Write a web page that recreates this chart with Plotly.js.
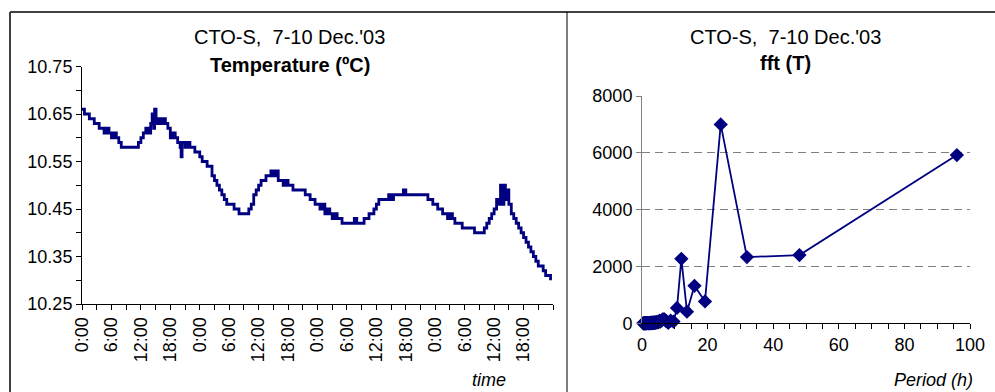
<!DOCTYPE html>
<html>
<head>
<meta charset="utf-8">
<script src="https://cdn.plot.ly/plotly-3.0.1.min.js"></script>
<style>
html,body{margin:0;padding:0;background:#fff;}
#chart{width:995px;height:392px;}
</style>
</head>
<body>
<div id="chart"></div>
<script>
// ---- Temperature time series (hours since 7 Dec 0:00) ----
var timeHours = [0,0.5,1,1.5,2,2.5,3,3.5,4,4.5,5,5.5,6,6.5,7,7.5,8,9,10,11,11.5,12,12.5,13,13.5,14,14.3,14.6,14.8,15.1,15.5,16,16.5,17,17.5,18,18.5,19,19.5,20,20.2,20.4,21,21.5,22,22.5,23,23.5,24,24.5,25,25.5,26,26.5,27,27.5,28,28.5,29,29.5,30,31,32,33,34,34.5,35,35.5,36,36.5,37,37.5,38,38.5,39,39.5,40,40.5,41,41.5,42,43,44,45,45.5,46,46.5,47,47.5,48,48.5,49,49.5,50,50.5,51,51.5,52,53,54,55,55.5,56,57,57.5,58,58.5,59,59.5,60,60.5,61,62,62.5,63,63.5,64,65,65.5,66,67,68,69,70,70.5,71,71.5,72,72.5,73,73.5,74,74.5,75,75.5,76,77,77.5,78,79,80,80.5,81,81.5,82,82.5,83,83.5,84,84.5,85,85.3,85.6,86,86.3,86.6,87,87.5,88,88.5,89,89.5,90,90.5,91,91.5,92,92.5,93,93.5,94,94.5,95,95.5];
var temperature = [10.66,10.65,10.65,10.64,10.64,10.63,10.63,10.62,10.62,10.61,10.62,10.61,10.60,10.61,10.60,10.59,10.58,10.58,10.58,10.58,10.59,10.60,10.61,10.62,10.61,10.63,10.65,10.62,10.66,10.63,10.64,10.63,10.64,10.63,10.62,10.60,10.61,10.60,10.59,10.58,10.56,10.59,10.58,10.59,10.58,10.58,10.57,10.57,10.56,10.55,10.55,10.54,10.54,10.52,10.51,10.50,10.49,10.48,10.47,10.46,10.46,10.45,10.44,10.44,10.45,10.46,10.48,10.49,10.50,10.51,10.51,10.52,10.52,10.53,10.52,10.53,10.51,10.51,10.50,10.51,10.50,10.49,10.49,10.49,10.48,10.48,10.47,10.47,10.46,10.46,10.45,10.46,10.44,10.45,10.44,10.43,10.44,10.43,10.42,10.42,10.42,10.43,10.42,10.42,10.43,10.43,10.44,10.44,10.45,10.46,10.47,10.47,10.47,10.48,10.47,10.48,10.48,10.48,10.49,10.48,10.48,10.48,10.48,10.48,10.47,10.47,10.46,10.46,10.45,10.45,10.44,10.44,10.43,10.44,10.43,10.42,10.42,10.41,10.41,10.41,10.40,10.40,10.40,10.40,10.41,10.42,10.43,10.44,10.45,10.47,10.46,10.50,10.46,10.50,10.47,10.49,10.46,10.44,10.43,10.42,10.41,10.40,10.39,10.38,10.37,10.36,10.35,10.34,10.33,10.33,10.32,10.31,10.31,10.30];

// ---- FFT of temperature ----
var periodH = [96,48,32,24,19.2,16,13.71,12,10.67,9.6,8.73,8,7.38,6.86,6.4,6,5.65,5.33,5.05,4.8,4.57,4.36,4.17,4,3.84,3.69,3.56,3.43,3.31,3.2,3.1,3,2.91,2.82,2.74,2.67,2.59,2.53,2.46,2.4,2.34,2.29,2.23,2.18,2.13,2.09,2.04,2,1.92,1.75,1.6,1.48,1.37,1.28,1.2,1.07,0.96,0.8,0.69,0.6,0.5,0.4];
var fftT = [5920,2400,2330,7000,770,1320,410,2270,540,60,90,20,80,140,150,100,60,90,40,30,50,30,20,40,20,30,10,20,15,25,10,20,10,15,10,12,8,10,6,8,5,7,5,6,4,5,4,5,4,3,4,3,2,3,2,2,2,1,1,1,1,1];

// ---- Tick labels ----
var timeTickVals = [0,3,6,9,12,15,18,21,24,27,30,33,36,39,42,45,48,51,54,57,60,63,66,69,72,75,78,81,84,87,90,93,96];
var timeTickText = ['0:00','','6:00','','12:00','','18:00','','0:00','','6:00','','12:00','','18:00','','0:00','','6:00','','12:00','','18:00','','0:00','','6:00','','12:00','','18:00','',''];
var tempTickVals = [10.25,10.30,10.35,10.40,10.45,10.50,10.55,10.60,10.65,10.70,10.75];
var tempTickText = ['10.25','','10.35','','10.45','','10.55','','10.65','','10.75'];
var periodTickVals = [0,5,10,15,20,25,30,35,40,45,50,55,60,65,70,75,80,85,90,95,100];
var periodTickText = ['0','','','','20','','','','40','','','','60','','','','80','','','','100'];
var fftTickVals = [0,2000,4000,6000,8000];

var W = 995, H = 392;
function px(x){return x/W;}
function py(y){return 1 - y/H;}

var navy = '#000080';
var font = 'Arial, "Liberation Sans", sans-serif';

var traces = [
  {x: timeHours, y: temperature, type: 'scatter', mode: 'lines',
   line: {color: navy, width: 2.8, shape: 'hv'}, xaxis: 'x', yaxis: 'y', hoverinfo: 'skip'},
  {x: periodH, y: fftT, type: 'scatter', mode: 'lines+markers',
   line: {color: navy, width: 1.8}, marker: {symbol: 'diamond', size: 11, color: navy},
   xaxis: 'x2', yaxis: 'y2', hoverinfo: 'skip', cliponaxis: false}
];

var axisFont = {family: font, size: 18, color: '#000'};

var layout = {
  width: W, height: H,
  margin: {l: 0, r: 0, t: 0, b: 0},
  paper_bgcolor: '#fff', plot_bgcolor: '#fff',
  showlegend: false,
  font: {family: font, color: '#000'},
  xaxis: {
    domain: [px(82), px(553)], range: [0, 96], anchor: 'y',
    tickmode: 'array', tickvals: timeTickVals, ticktext: timeTickText,
    tickangle: -90, ticks: 'outside', ticklen: 5, tickcolor: '#000', tickwidth: 1,
    showline: true, linecolor: '#000', linewidth: 1, showgrid: false, zeroline: false,
    tickfont: axisFont, fixedrange: true
  },
  yaxis: {
    domain: [py(304), py(66.5)], range: [10.25, 10.75], anchor: 'x',
    tickmode: 'array', tickvals: tempTickVals, ticktext: tempTickText,
    ticks: 'outside', ticklen: 5, tickcolor: '#000', tickwidth: 1,
    showline: true, linecolor: '#000', linewidth: 1, showgrid: false, zeroline: false,
    tickfont: axisFont, fixedrange: true
  },
  xaxis2: {
    domain: [px(642), px(970)], range: [0, 100], anchor: 'y2',
    tickmode: 'array', tickvals: periodTickVals, ticktext: periodTickText,
    ticks: 'outside', ticklen: 5, tickcolor: '#000', tickwidth: 1,
    showline: true, linecolor: '#000', linewidth: 1, showgrid: false, zeroline: false,
    tickfont: axisFont, fixedrange: true
  },
  yaxis2: {
    domain: [py(323.3), py(96)], range: [0, 8000], anchor: 'x2',
    tickmode: 'array', tickvals: fftTickVals,
    ticks: 'outside', ticklen: 5, tickcolor: '#808080', tickwidth: 1,
    showline: true, linecolor: '#808080', linewidth: 1,
    showgrid: true, gridcolor: '#808080', gridwidth: 1, griddash: '8px,5px', zeroline: false,
    tickfont: axisFont, fixedrange: true
  },
  annotations: [
    {text: "CTO-S,  7-10 Dec.'03", x: px(289), y: py(36.5), xref: 'paper', yref: 'paper',
     xanchor: 'center', yanchor: 'middle', showarrow: false, font: {family: font, size: 20, color: '#000'}},
    {text: '<b>Temperature (ºC)</b>', x: px(290), y: py(65), xref: 'paper', yref: 'paper',
     xanchor: 'center', yanchor: 'middle', showarrow: false, font: {family: font, size: 20, color: '#000'}},
    {text: "CTO-S,  7-10 Dec.'03", x: px(785), y: py(36.5), xref: 'paper', yref: 'paper',
     xanchor: 'center', yanchor: 'middle', showarrow: false, font: {family: font, size: 20, color: '#000'}},
    {text: '<b>fft (T)</b>', x: px(785), y: py(63), xref: 'paper', yref: 'paper',
     xanchor: 'center', yanchor: 'middle', showarrow: false, font: {family: font, size: 20, color: '#000'}},
    {text: '<i>time</i>', x: px(489), y: py(380), xref: 'paper', yref: 'paper',
     xanchor: 'center', yanchor: 'middle', showarrow: false, font: {family: font, size: 18, color: '#000'}},
    {text: '<i>Period (h)</i>', x: px(933), y: py(380), xref: 'paper', yref: 'paper',
     xanchor: 'center', yanchor: 'middle', showarrow: false, font: {family: font, size: 18, color: '#000'}}
  ],
  shapes: [
    {type: 'line', xref: 'paper', yref: 'paper', x0: px(10), x1: 1, y0: py(12), y1: py(12),
     line: {color: '#404040', width: 2}},
    {type: 'line', xref: 'paper', yref: 'paper', x0: px(10), x1: px(10), y0: py(12), y1: 0,
     line: {color: '#404040', width: 2}},
    {type: 'line', xref: 'paper', yref: 'paper', x0: px(567), x1: px(567), y0: py(12), y1: 0,
     line: {color: '#000', width: 1}}
  ]
};

Plotly.newPlot('chart', traces, layout, {staticPlot: true, displayModeBar: false});
</script>
</body>
</html>
